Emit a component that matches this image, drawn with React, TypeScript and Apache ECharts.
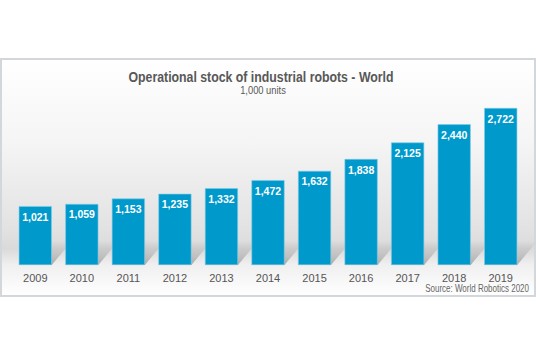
import React, { useEffect, useRef } from "react";
import * as echarts from "echarts";

const years = ["2009", "2010", "2011", "2012", "2013", "2014", "2015", "2016", "2017", "2018", "2019"];
const stock = [1021, 1059, 1153, 1235, 1332, 1472, 1632, 1838, 2125, 2440, 2722];
const titleText = "Operational stock of industrial robots - World";
const subtitleText = "1,000 units";
const sourceText = "Source: World Robotics 2020";

export default function App() {
  const ref = useRef<HTMLDivElement>(null);
  useEffect(() => {
    if (!ref.current) return;
    const chart = echarts.init(ref.current, null, { renderer: "svg" });
    const font = "'Liberation Sans', Arial, sans-serif";
    chart.setOption({
      animation: false,
      graphic: [
        {
          type: "rect",
          z: -10,
          silent: true,
          shape: { x: 1, y: 59, width: 534, height: 237 },
          style: {
            stroke: "#d3d6da",
            lineWidth: 2,
            fill: new echarts.graphic.LinearGradient(0, 0, 0, 1, [
              { offset: 0, color: "#ffffff" },
              { offset: 0.35, color: "#f5f5f5" },
              { offset: 0.72, color: "#e2e2e2" },
              { offset: 0.8, color: "#dadada" },
              { offset: 0.87, color: "#f0f0f0" },
              { offset: 1, color: "#ffffff" },
            ]),
          },
        },
        {
          type: "text",
          x: 261,
          y: 77,
          scaleX: 0.88,
          style: {
            text: titleText,
            fill: "#585858",
            font: `bold 14px ${font}`,
            align: "center",
            verticalAlign: "middle",
          },
        },
        {
          type: "text",
          x: 263,
          y: 90,
          scaleX: 0.85,
          style: {
            text: subtitleText,
            fill: "#585858",
            font: `11px ${font}`,
            align: "center",
            verticalAlign: "middle",
          },
        },
        {
          type: "text",
          x: 529,
          y: 289,
          scaleX: 0.8,
          style: {
            text: sourceText,
            fill: "#666666",
            font: `10px ${font}`,
            align: "right",
            verticalAlign: "middle",
          },
        },
      ],
      grid: { left: 12, right: 12, top: 92, bottom: 92, containLabel: false },
      xAxis: {
        type: "category",
        data: years,
        axisLine: { show: false },
        axisTick: { show: false },
        axisLabel: { color: "#555555", fontSize: 11, fontFamily: font, margin: 7 },
      },
      yAxis: { type: "value", min: 0, max: 3000, show: false, splitLine: { show: false } },
      series: [
        {
          type: "custom",
          z: 1,
          silent: true,
          data: stock.map((v, i) => [i, v]),
          renderItem: (params: any, api: any) => {
            const base = api.coord([api.value(0), 0]);
            const bandW = api.size([1, 0])[0];
            const w = bandW * 0.71;
            const xl = base[0] - w / 2;
            const xr = base[0] + w / 2;
            const yb = base[1];
            const d = 20;
            return {
              type: "polygon",
              shape: {
                points: [
                  [xl, yb],
                  [xr, yb],
                  [xr + d, yb - d * 1.2],
                  [xl + d, yb - d * 1.2],
                ],
              },
              style: {
                fill: new echarts.graphic.LinearGradient(0, 1, 0, 0, [
                  { offset: 0, color: "rgba(90,90,90,0.45)" },
                  { offset: 1, color: "rgba(120,120,120,0)" },
                ]),
              },
            };
          },
        },
        {
          type: "bar",
          z: 2,
          data: stock,
          barCategoryGap: "29%",
          itemStyle: { color: "#0099cc", borderColor: "#7fcbe6", borderWidth: 0.6 },
          label: {
            show: true,
            position: "insideTop",
            distance: 5,
            color: "#ffffff",
            fontWeight: "bold",
            fontSize: 10.5,
            fontFamily: font,
            formatter: (p: any) => Number(p.value).toLocaleString("en-US"),
          },
        },
      ],
    });
    return () => chart.dispose();
  }, []);
  return (
    <div
      ref={ref}
      style={{ position: "fixed", left: 0, top: 0, width: 536, height: 357, background: "#ffffff" }}
    />
  );
}
